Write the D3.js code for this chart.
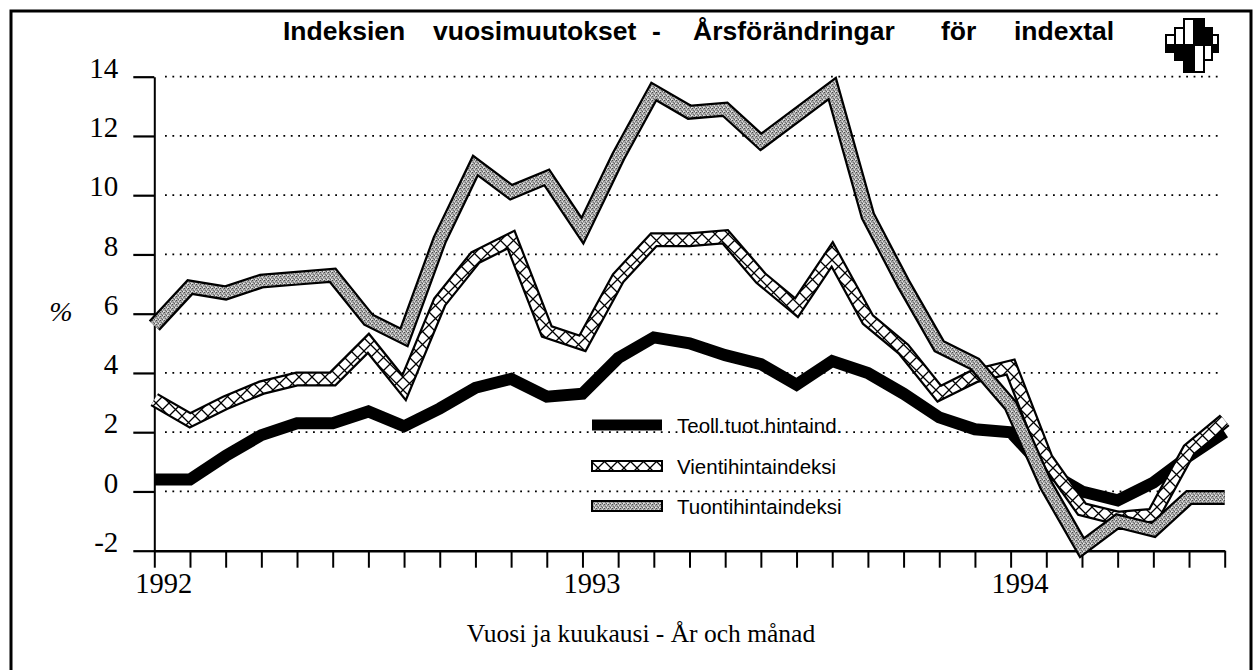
<!DOCTYPE html>
<html>
<head>
<meta charset="utf-8">
<script src="https://cdn.jsdelivr.net/npm/d3@7"></script>
<style>
  html, body { margin: 0; padding: 0; background: #fff; }
  svg { display: block; }
</style>
</head>
<body>
<svg id="chart" width="1256" height="670"></svg>
<script>
// ---- data ----
const months = d3.range(31); // Jan 1992 .. Jul 1994
const yearTicks = [0, 12, 24];
const yearLabels = ["1992", "1993", "1994"];
const yTicks = [-2, 0, 2, 4, 6, 8, 10, 12, 14];
const gridValues = [0, 2, 4, 6, 8, 10, 12, 14];

const teoll = [0.4, 0.4, 1.2, 1.9, 2.3, 2.3, 2.7, 2.2, 2.8, 3.5, 3.8, 3.2, 3.3, 4.5, 5.2, 5.0,
               4.6, 4.3, 3.6, 4.4, 4.0, 3.3, 2.5, 2.1, 2.0, 0.7, 0.0, -0.3, 0.3, 1.2, 2.0];
const vienti = [3.1, 2.4, 3.0, 3.5, 3.8, 3.8, 5.0, 3.5, 6.4, 7.9, 8.5, 5.4, 5.0, 7.2, 8.5, 8.5,
                8.6, 7.2, 6.2, 8.0, 5.8, 4.8, 3.3, 3.9, 4.2, 1.1, -0.6, -0.9, -0.8, 1.4, 2.4];
const tuonti = [5.6, 6.9, 6.7, 7.1, 7.2, 7.3, 5.8, 5.2, 8.5, 11.0, 10.1, 10.6, 8.8, 11.3, 13.5, 12.8,
                12.9, 11.8, 12.7, 13.6, 9.3, 7.0, 4.9, 4.3, 2.9, 0.2, -1.9, -1.0, -1.3, -0.2, -0.2];

const seriesNames = ["Teoll.tuot.hintaind.", "Vientihintaindeksi", "Tuontihintaindeksi"];
const titleWords = ["Indeksien", "vuosimuutokset", "-", "Årsförändringar", "för", "indextal"];
const xTitle = "Vuosi ja kuukausi - År och månad";
const yTitle = "%";

// ---- layout ----
const svg = d3.select("#chart");
const serif = "'Liberation Serif', 'Times New Roman', serif";
const sans = "'Liberation Sans', Arial, sans-serif";

const x = d3.scaleLinear().domain([0, 30]).range([154.3, 1224.7]);
const y = d3.scaleLinear().domain([-2, 14]).range([550.7, 76.7]);

// patterns
const defs = svg.append("defs");
const hp = 13;
const hatch = defs.append("pattern").attr("id", "hatch")
  .attr("patternUnits", "userSpaceOnUse").attr("width", hp).attr("height", hp);
hatch.append("rect").attr("width", hp).attr("height", hp).attr("fill", "#fff");
hatch.append("path").attr("d", `M0,0L${hp},${hp}M${hp},0L0,${hp}`)
  .attr("stroke", "#000").attr("stroke-width", 1.3);

const stip = defs.append("pattern").attr("id", "stip")
  .attr("patternUnits", "userSpaceOnUse").attr("width", 4).attr("height", 4);
stip.append("rect").attr("width", 4).attr("height", 4).attr("fill", "#a9a9a9");
[[0,0,"#4a4a4a"],[2,1,"#e0e0e0"],[1,2,"#707070"],[3,3,"#eeeeee"],[3,1,"#808080"],[0,3,"#d0d0d0"],[2,3,"#5a5a5a"]]
  .forEach(([a,b,c]) => stip.append("rect").attr("x", a).attr("y", b).attr("width", 1).attr("height", 1).attr("fill", c));

// frame
svg.append("rect").attr("x", 11).attr("y", 11).attr("width", 1240).attr("height", 700)
  .attr("fill", "none").attr("stroke", "#000").attr("stroke-width", 3);

// title
const titleX = [283, 433, 652, 693, 941, 1014];
svg.append("g").selectAll("text").data(titleWords).join("text")
  .attr("x", (d, i) => titleX[i]).attr("y", 40)
  .attr("font-family", sans).attr("font-weight", "bold").attr("font-size", 26.5)
  .attr("fill", "#000").text(d => d);

// logo
const logo = svg.append("g").attr("stroke", "#000").attr("stroke-width", 2);
const logoBars = [
  {x: 1166, w: 9, top: 35, bot: 52, tf: "#fff", bf: "#000"},
  {x: 1175, w: 9, top: 28, bot: 60, tf: "#fff", bf: "#000"},
  {x: 1184, w: 10, top: 19, bot: 72, tf: "#fff", bf: "#000"},
  {x: 1194, w: 10, top: 19, bot: 72, tf: "#000", bf: "#fff"},
  {x: 1204, w: 8, top: 28, bot: 60, tf: "#000", bf: "#fff"},
  {x: 1212, w: 6, top: 35, bot: 52, tf: "#fff", bf: "#000"}
];
const split = 45;
logoBars.forEach(b => {
  logo.append("rect").attr("x", b.x).attr("y", b.top).attr("width", b.w).attr("height", split - b.top).attr("fill", b.tf);
  logo.append("rect").attr("x", b.x).attr("y", split).attr("width", b.w).attr("height", b.bot - split).attr("fill", b.bf);
});

// gridlines
svg.append("g").selectAll("line").data(gridValues).join("line")
  .attr("x1", 165).attr("x2", 1222)
  .attr("y1", d => y(d)).attr("y2", d => y(d))
  .attr("stroke", "#000").attr("stroke-width", 1.8)
  .attr("stroke-dasharray", "1.8 5.6");

// y axis
const yAxis = svg.append("g").attr("transform", `translate(${x(0)},0)`)
  .call(d3.axisLeft(y).tickValues(yTicks).tickSize(21).tickSizeOuter(0).tickPadding(15)
    .tickFormat(d => String(d)));
yAxis.select(".domain").attr("stroke-width", 2);
yAxis.selectAll(".tick line").attr("stroke-width", 2.2);
yAxis.selectAll(".tick text").attr("dy", "0.02em")
  .attr("font-family", serif).attr("font-size", 29).attr("fill", "#000");

// x axis
const xAxis = svg.append("g").attr("transform", `translate(0,${y(-2)})`)
  .call(d3.axisBottom(x).tickValues(months).tickSize(17).tickSizeOuter(0)
    .tickFormat(d => { const k = yearTicks.indexOf(d); return k >= 0 ? yearLabels[k] : ""; }));
xAxis.select(".domain").attr("stroke-width", 2.5);
xAxis.selectAll(".tick line").attr("stroke-width", 2);
xAxis.selectAll(".tick text").attr("y", 42).attr("dy", 0).attr("x", 9)
  .attr("font-family", serif).attr("font-size", 28.5).attr("fill", "#000");

// axis titles
svg.append("text").attr("x", 641).attr("y", 642).attr("text-anchor", "middle")
  .attr("font-family", serif).attr("font-size", 25.5).text(xTitle);
svg.append("text").attr("x", 61).attr("y", 321).attr("text-anchor", "middle")
  .attr("font-family", serif).attr("font-style", "italic").attr("font-size", 28).text(yTitle);

// lines
const line = d3.line().x((d, i) => x(i)).y(d => y(d));
const g = svg.append("g").attr("fill", "none").attr("stroke-linejoin", "miter").attr("stroke-miterlimit", 3);

g.append("path").attr("d", line(teoll)).attr("stroke", "#000").attr("stroke-width", 12);

g.append("path").attr("d", line(vienti)).attr("stroke", "#000").attr("stroke-width", 15);
g.append("path").attr("d", line(vienti)).attr("stroke", "url(#hatch)").attr("stroke-width", 10.5);

g.append("path").attr("d", line(tuonti)).attr("stroke", "#000").attr("stroke-width", 15);
g.append("path").attr("d", line(tuonti)).attr("stroke", "url(#stip)").attr("stroke-width", 10.5);

// legend
const legY = [425, 466, 506];
const leg = svg.append("g");
leg.append("rect").attr("x", 592).attr("y", legY[0] - 5.5).attr("width", 70).attr("height", 11).attr("fill", "#000");
leg.append("rect").attr("x", 592).attr("y", legY[1] - 5).attr("width", 70).attr("height", 10)
  .attr("fill", "url(#hatch)").attr("stroke", "#000").attr("stroke-width", 2);
leg.append("rect").attr("x", 592).attr("y", legY[2] - 5).attr("width", 70).attr("height", 10)
  .attr("fill", "url(#stip)").attr("stroke", "#000").attr("stroke-width", 2);
leg.selectAll("text").data(seriesNames).join("text")
  .attr("x", 677).attr("y", (d, i) => legY[i] + 8)
  .attr("font-family", sans).attr("font-size", 20.5).attr("fill", "#000").text(d => d);
</script>
</body>
</html>
